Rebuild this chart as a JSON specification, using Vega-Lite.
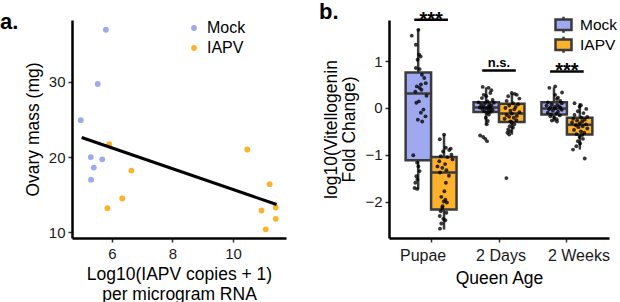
{
  "$schema": "https://vega.github.io/schema/vega-lite/v6.json",
  "background": "white",
  "padding": {"left": 0, "top": 0, "right": 0, "bottom": 0},
  "spacing": 33,
  "config": {
    "font": "Liberation Sans",
    "view": {"stroke": null},
    "axis": {
      "grid": false,
      "domainColor": "black",
      "domainWidth": 2.5,
      "tickColor": "#333333",
      "tickSize": 4,
      "tickWidth": 1.5,
      "labelFont": "Liberation Sans",
      "labelFontSize": 15,
      "labelColor": "#1a1a1a",
      "titleFont": "Liberation Sans",
      "titleFontSize": 17.5,
      "titleFontWeight": "normal",
      "titleColor": "black"
    },
    "legend": {
      "labelFont": "Liberation Sans",
      "labelFontSize": 16,
      "labelColor": "black",
      "padding": 0
    },
    "title": {"font": "Liberation Sans", "fontSize": 22, "fontWeight": "bold", "anchor": "start", "frame": "group", "color": "black"}
  },
  "datasets": {
    "scatter": [
      {"g": "Mock", "x": 4.97, "y": 24.9},
      {"g": "Mock", "x": 5.8, "y": 36.9},
      {"g": "Mock", "x": 5.53, "y": 29.7},
      {"g": "Mock", "x": 5.3, "y": 20.0},
      {"g": "Mock", "x": 5.4, "y": 18.6},
      {"g": "Mock", "x": 5.31, "y": 17.0},
      {"g": "Mock", "x": 5.68, "y": 19.7},
      {"g": "IAPV", "x": 5.91, "y": 21.7},
      {"g": "IAPV", "x": 5.85, "y": 13.2},
      {"g": "IAPV", "x": 6.34, "y": 14.5},
      {"g": "IAPV", "x": 6.64, "y": 18.2},
      {"g": "IAPV", "x": 10.47, "y": 21.0},
      {"g": "IAPV", "x": 11.21, "y": 16.4},
      {"g": "IAPV", "x": 10.94, "y": 12.9},
      {"g": "IAPV", "x": 11.41, "y": 13.3},
      {"g": "IAPV", "x": 11.41, "y": 11.8},
      {"g": "IAPV", "x": 11.08, "y": 10.4}
    ],
    "fit": [
      {"x": 5.0, "y": 22.6},
      {"x": 11.44, "y": 13.7}
    ],
    "box": [
      {"a": "Pupae", "g": "Mock", "lo": -1.74, "q1": -1.12, "med": 0.31, "q3": 0.76, "hi": 1.69},
      {"a": "Pupae", "g": "IAPV", "lo": -2.6, "q1": -2.17, "med": -1.38, "q3": -1.05, "hi": -0.57},
      {"a": "2 Days", "g": "Mock", "lo": -0.36, "q1": -0.085, "med": 0.01, "q3": 0.12, "hi": 0.44},
      {"a": "2 Days", "g": "IAPV", "lo": -0.57, "q1": -0.3, "med": -0.12, "q3": 0.09, "hi": 0.31},
      {"a": "2 Weeks", "g": "Mock", "lo": -0.29, "q1": -0.14, "med": -0.01, "q3": 0.12, "hi": 0.44},
      {"a": "2 Weeks", "g": "IAPV", "lo": -0.89, "q1": -0.57, "med": -0.36, "q3": -0.21, "hi": 0.1}
    ],
    "sig": [
      {"a": "Pupae", "label": "***", "y": 1.887},
      {"a": "2 Days", "label": "n.s.", "y": 0.8},
      {"a": "2 Weeks", "label": "***", "y": 0.78}
    ],
    "pts": [
      {"a": "Pupae", "g": "Mock", "v": 1.67, "j": 0.0},
      {"a": "Pupae", "g": "Mock", "v": 1.545, "j": -0.26},
      {"a": "Pupae", "g": "Mock", "v": 1.35, "j": -0.1},
      {"a": "Pupae", "g": "Mock", "v": 1.14, "j": 0.03},
      {"a": "Pupae", "g": "Mock", "v": 1.1, "j": 0.09},
      {"a": "Pupae", "g": "Mock", "v": 1.03, "j": -0.03},
      {"a": "Pupae", "g": "Mock", "v": 0.855, "j": -0.1},
      {"a": "Pupae", "g": "Mock", "v": 0.83, "j": 0.05},
      {"a": "Pupae", "g": "Mock", "v": 0.71, "j": 0.14},
      {"a": "Pupae", "g": "Mock", "v": 0.64, "j": 0.23},
      {"a": "Pupae", "g": "Mock", "v": 0.53, "j": 0.29},
      {"a": "Pupae", "g": "Mock", "v": 0.5, "j": 0.1},
      {"a": "Pupae", "g": "Mock", "v": 0.46, "j": -0.06},
      {"a": "Pupae", "g": "Mock", "v": 0.43, "j": 0.05},
      {"a": "Pupae", "g": "Mock", "v": 0.39, "j": 0.12},
      {"a": "Pupae", "g": "Mock", "v": 0.35, "j": -0.12},
      {"a": "Pupae", "g": "Mock", "v": 0.26, "j": 0.32},
      {"a": "Pupae", "g": "Mock", "v": 0.14, "j": 0.02},
      {"a": "Pupae", "g": "Mock", "v": 0.11, "j": -0.08},
      {"a": "Pupae", "g": "Mock", "v": -0.035, "j": 0.2},
      {"a": "Pupae", "g": "Mock", "v": -0.1, "j": 0.1},
      {"a": "Pupae", "g": "Mock", "v": -0.18, "j": 0.28},
      {"a": "Pupae", "g": "Mock", "v": -0.25, "j": -0.02},
      {"a": "Pupae", "g": "Mock", "v": -0.29, "j": 0.15},
      {"a": "Pupae", "g": "Mock", "v": -1.01, "j": -0.2},
      {"a": "Pupae", "g": "Mock", "v": -1.17, "j": -0.05},
      {"a": "Pupae", "g": "Mock", "v": -1.25, "j": 0.0},
      {"a": "Pupae", "g": "Mock", "v": -1.35, "j": 0.05},
      {"a": "Pupae", "g": "Mock", "v": -1.46, "j": -0.08},
      {"a": "Pupae", "g": "Mock", "v": -1.53, "j": -0.04},
      {"a": "Pupae", "g": "Mock", "v": -1.6, "j": -0.12},
      {"a": "Pupae", "g": "Mock", "v": -1.71, "j": -0.15},
      {"a": "Pupae", "g": "Mock", "v": -1.73, "j": -0.05},
      {"a": "Pupae", "g": "IAPV", "v": -0.57, "j": 0.01},
      {"a": "Pupae", "g": "IAPV", "v": -0.67, "j": -0.16},
      {"a": "Pupae", "g": "IAPV", "v": -0.85, "j": 0.08},
      {"a": "Pupae", "g": "IAPV", "v": -0.87, "j": 0.27},
      {"a": "Pupae", "g": "IAPV", "v": -0.9, "j": 0.21},
      {"a": "Pupae", "g": "IAPV", "v": -0.93, "j": -0.03},
      {"a": "Pupae", "g": "IAPV", "v": -1.0, "j": 0.3},
      {"a": "Pupae", "g": "IAPV", "v": -1.03, "j": -0.12},
      {"a": "Pupae", "g": "IAPV", "v": -1.05, "j": 0.14},
      {"a": "Pupae", "g": "IAPV", "v": -1.1, "j": 0.34},
      {"a": "Pupae", "g": "IAPV", "v": -1.14, "j": -0.18},
      {"a": "Pupae", "g": "IAPV", "v": -1.2, "j": 0.05},
      {"a": "Pupae", "g": "IAPV", "v": -1.25, "j": -0.25},
      {"a": "Pupae", "g": "IAPV", "v": -1.28, "j": -0.06},
      {"a": "Pupae", "g": "IAPV", "v": -1.33, "j": 0.1},
      {"a": "Pupae", "g": "IAPV", "v": -1.38, "j": -0.15},
      {"a": "Pupae", "g": "IAPV", "v": -1.45, "j": 0.2},
      {"a": "Pupae", "g": "IAPV", "v": -1.6, "j": 0.08},
      {"a": "Pupae", "g": "IAPV", "v": -1.78, "j": 0.02},
      {"a": "Pupae", "g": "IAPV", "v": -1.9, "j": -0.1},
      {"a": "Pupae", "g": "IAPV", "v": -1.96, "j": 0.06},
      {"a": "Pupae", "g": "IAPV", "v": -2.0, "j": 0.0},
      {"a": "Pupae", "g": "IAPV", "v": -2.02, "j": 0.12},
      {"a": "Pupae", "g": "IAPV", "v": -2.1, "j": -0.05},
      {"a": "Pupae", "g": "IAPV", "v": -2.14, "j": -0.06},
      {"a": "Pupae", "g": "IAPV", "v": -2.21, "j": -0.12},
      {"a": "Pupae", "g": "IAPV", "v": -2.24, "j": 0.1},
      {"a": "Pupae", "g": "IAPV", "v": -2.31, "j": -0.16},
      {"a": "Pupae", "g": "IAPV", "v": -2.37, "j": -0.02},
      {"a": "Pupae", "g": "IAPV", "v": -2.4, "j": 0.06},
      {"a": "Pupae", "g": "IAPV", "v": -2.47, "j": -0.1},
      {"a": "Pupae", "g": "IAPV", "v": -2.58, "j": -0.15},
      {"a": "2 Days", "g": "Mock", "v": 0.45, "j": -0.14},
      {"a": "2 Days", "g": "Mock", "v": 0.43, "j": 0.09},
      {"a": "2 Days", "g": "Mock", "v": 0.38, "j": 0.2},
      {"a": "2 Days", "g": "Mock", "v": 0.32, "j": 0.16},
      {"a": "2 Days", "g": "Mock", "v": 0.28, "j": -0.1},
      {"a": "2 Days", "g": "Mock", "v": 0.25, "j": 0.0},
      {"a": "2 Days", "g": "Mock", "v": 0.21, "j": -0.17},
      {"a": "2 Days", "g": "Mock", "v": 0.17, "j": 0.25},
      {"a": "2 Days", "g": "Mock", "v": 0.14, "j": 0.05},
      {"a": "2 Days", "g": "Mock", "v": 0.12, "j": -0.3},
      {"a": "2 Days", "g": "Mock", "v": 0.11, "j": 0.3},
      {"a": "2 Days", "g": "Mock", "v": 0.1, "j": -0.05},
      {"a": "2 Days", "g": "Mock", "v": 0.08, "j": 0.12},
      {"a": "2 Days", "g": "Mock", "v": 0.07, "j": -0.2},
      {"a": "2 Days", "g": "Mock", "v": 0.05, "j": 0.2},
      {"a": "2 Days", "g": "Mock", "v": 0.03, "j": -0.1},
      {"a": "2 Days", "g": "Mock", "v": 0.02, "j": 0.08},
      {"a": "2 Days", "g": "Mock", "v": 0.01, "j": -0.25},
      {"a": "2 Days", "g": "Mock", "v": 0.0, "j": 0.15},
      {"a": "2 Days", "g": "Mock", "v": -0.01, "j": 0.0},
      {"a": "2 Days", "g": "Mock", "v": -0.02, "j": -0.15},
      {"a": "2 Days", "g": "Mock", "v": -0.04, "j": 0.25},
      {"a": "2 Days", "g": "Mock", "v": -0.05, "j": 0.1},
      {"a": "2 Days", "g": "Mock", "v": -0.07, "j": -0.08},
      {"a": "2 Days", "g": "Mock", "v": -0.08, "j": 0.18},
      {"a": "2 Days", "g": "Mock", "v": -0.1, "j": 0.05},
      {"a": "2 Days", "g": "Mock", "v": -0.14, "j": 0.1},
      {"a": "2 Days", "g": "Mock", "v": -0.21, "j": -0.02},
      {"a": "2 Days", "g": "Mock", "v": -0.28, "j": 0.06},
      {"a": "2 Days", "g": "Mock", "v": -0.35, "j": 0.02},
      {"a": "2 Days", "g": "Mock", "v": -0.59, "j": -0.24},
      {"a": "2 Days", "g": "Mock", "v": -0.62, "j": -0.12},
      {"a": "2 Days", "g": "Mock", "v": -0.66, "j": -0.04},
      {"a": "2 Days", "g": "Mock", "v": -0.71, "j": 0.03},
      {"a": "2 Days", "g": "IAPV", "v": 0.32, "j": 0.0},
      {"a": "2 Days", "g": "IAPV", "v": 0.3, "j": 0.12},
      {"a": "2 Days", "g": "IAPV", "v": 0.28, "j": 0.2},
      {"a": "2 Days", "g": "IAPV", "v": 0.25, "j": -0.14},
      {"a": "2 Days", "g": "IAPV", "v": 0.2, "j": 0.3},
      {"a": "2 Days", "g": "IAPV", "v": 0.15, "j": -0.2},
      {"a": "2 Days", "g": "IAPV", "v": 0.1, "j": 0.05},
      {"a": "2 Days", "g": "IAPV", "v": 0.08, "j": 0.25},
      {"a": "2 Days", "g": "IAPV", "v": 0.05, "j": -0.1},
      {"a": "2 Days", "g": "IAPV", "v": 0.02, "j": 0.15},
      {"a": "2 Days", "g": "IAPV", "v": 0.0, "j": -0.25},
      {"a": "2 Days", "g": "IAPV", "v": -0.03, "j": 0.1},
      {"a": "2 Days", "g": "IAPV", "v": -0.06, "j": -0.05},
      {"a": "2 Days", "g": "IAPV", "v": -0.09, "j": 0.3},
      {"a": "2 Days", "g": "IAPV", "v": -0.12, "j": 0.0},
      {"a": "2 Days", "g": "IAPV", "v": -0.15, "j": -0.2},
      {"a": "2 Days", "g": "IAPV", "v": -0.17, "j": 0.2},
      {"a": "2 Days", "g": "IAPV", "v": -0.19, "j": -0.1},
      {"a": "2 Days", "g": "IAPV", "v": -0.21, "j": 0.08},
      {"a": "2 Days", "g": "IAPV", "v": -0.23, "j": -0.28},
      {"a": "2 Days", "g": "IAPV", "v": -0.26, "j": 0.18},
      {"a": "2 Days", "g": "IAPV", "v": -0.29, "j": -0.05},
      {"a": "2 Days", "g": "IAPV", "v": -0.31, "j": 0.0},
      {"a": "2 Days", "g": "IAPV", "v": -0.35, "j": 0.1},
      {"a": "2 Days", "g": "IAPV", "v": -0.39, "j": -0.08},
      {"a": "2 Days", "g": "IAPV", "v": -0.42, "j": 0.05},
      {"a": "2 Days", "g": "IAPV", "v": -0.46, "j": -0.14},
      {"a": "2 Days", "g": "IAPV", "v": -0.5, "j": -0.06},
      {"a": "2 Days", "g": "IAPV", "v": -0.53, "j": -0.17},
      {"a": "2 Days", "g": "IAPV", "v": -0.57, "j": -0.1},
      {"a": "2 Days", "g": "IAPV", "v": -1.5, "j": -0.21},
      {"a": "2 Weeks", "g": "Mock", "v": 0.46, "j": 0.04},
      {"a": "2 Weeks", "g": "Mock", "v": 0.43, "j": -0.19},
      {"a": "2 Weeks", "g": "Mock", "v": 0.33, "j": 0.31},
      {"a": "2 Weeks", "g": "Mock", "v": 0.28, "j": 0.04},
      {"a": "2 Weeks", "g": "Mock", "v": 0.22, "j": 0.15},
      {"a": "2 Weeks", "g": "Mock", "v": 0.19, "j": 0.11},
      {"a": "2 Weeks", "g": "Mock", "v": 0.15, "j": 0.24},
      {"a": "2 Weeks", "g": "Mock", "v": 0.12, "j": -0.25},
      {"a": "2 Weeks", "g": "Mock", "v": 0.1, "j": 0.3},
      {"a": "2 Weeks", "g": "Mock", "v": 0.08, "j": -0.1},
      {"a": "2 Weeks", "g": "Mock", "v": 0.06, "j": 0.12},
      {"a": "2 Weeks", "g": "Mock", "v": 0.05, "j": -0.3},
      {"a": "2 Weeks", "g": "Mock", "v": 0.03, "j": 0.2},
      {"a": "2 Weeks", "g": "Mock", "v": 0.02, "j": 0.0},
      {"a": "2 Weeks", "g": "Mock", "v": 0.01, "j": -0.15},
      {"a": "2 Weeks", "g": "Mock", "v": 0.0, "j": 0.25},
      {"a": "2 Weeks", "g": "Mock", "v": -0.01, "j": 0.05},
      {"a": "2 Weeks", "g": "Mock", "v": -0.03, "j": -0.2},
      {"a": "2 Weeks", "g": "Mock", "v": -0.04, "j": 0.3},
      {"a": "2 Weeks", "g": "Mock", "v": -0.06, "j": -0.05},
      {"a": "2 Weeks", "g": "Mock", "v": -0.08, "j": 0.15},
      {"a": "2 Weeks", "g": "Mock", "v": -0.1, "j": -0.25},
      {"a": "2 Weeks", "g": "Mock", "v": -0.12, "j": 0.08},
      {"a": "2 Weeks", "g": "Mock", "v": -0.14, "j": -0.12},
      {"a": "2 Weeks", "g": "Mock", "v": -0.16, "j": 0.22},
      {"a": "2 Weeks", "g": "Mock", "v": -0.18, "j": -0.15},
      {"a": "2 Weeks", "g": "Mock", "v": -0.21, "j": 0.0},
      {"a": "2 Weeks", "g": "Mock", "v": -0.24, "j": 0.1},
      {"a": "2 Weeks", "g": "Mock", "v": -0.27, "j": -0.09},
      {"a": "2 Weeks", "g": "Mock", "v": -0.29, "j": 0.11},
      {"a": "2 Weeks", "g": "IAPV", "v": 0.1, "j": -0.2},
      {"a": "2 Weeks", "g": "IAPV", "v": 0.06, "j": 0.05},
      {"a": "2 Weeks", "g": "IAPV", "v": 0.03, "j": 0.0},
      {"a": "2 Weeks", "g": "IAPV", "v": -0.02, "j": 0.26},
      {"a": "2 Weeks", "g": "IAPV", "v": -0.07, "j": -0.07},
      {"a": "2 Weeks", "g": "IAPV", "v": -0.11, "j": 0.15},
      {"a": "2 Weeks", "g": "IAPV", "v": -0.15, "j": -0.2},
      {"a": "2 Weeks", "g": "IAPV", "v": -0.19, "j": 0.3},
      {"a": "2 Weeks", "g": "IAPV", "v": -0.21, "j": 0.07},
      {"a": "2 Weeks", "g": "IAPV", "v": -0.23, "j": -0.25},
      {"a": "2 Weeks", "g": "IAPV", "v": -0.25, "j": 0.2},
      {"a": "2 Weeks", "g": "IAPV", "v": -0.27, "j": -0.1},
      {"a": "2 Weeks", "g": "IAPV", "v": -0.29, "j": 0.1},
      {"a": "2 Weeks", "g": "IAPV", "v": -0.31, "j": -0.3},
      {"a": "2 Weeks", "g": "IAPV", "v": -0.33, "j": 0.0},
      {"a": "2 Weeks", "g": "IAPV", "v": -0.35, "j": 0.25},
      {"a": "2 Weeks", "g": "IAPV", "v": -0.37, "j": -0.15},
      {"a": "2 Weeks", "g": "IAPV", "v": -0.39, "j": 0.12},
      {"a": "2 Weeks", "g": "IAPV", "v": -0.41, "j": -0.05},
      {"a": "2 Weeks", "g": "IAPV", "v": -0.44, "j": 0.3},
      {"a": "2 Weeks", "g": "IAPV", "v": -0.47, "j": -0.22},
      {"a": "2 Weeks", "g": "IAPV", "v": -0.5, "j": 0.05},
      {"a": "2 Weeks", "g": "IAPV", "v": -0.53, "j": 0.18},
      {"a": "2 Weeks", "g": "IAPV", "v": -0.56, "j": -0.12},
      {"a": "2 Weeks", "g": "IAPV", "v": -0.58, "j": 0.1},
      {"a": "2 Weeks", "g": "IAPV", "v": -0.62, "j": 0.0},
      {"a": "2 Weeks", "g": "IAPV", "v": -0.66, "j": 0.13},
      {"a": "2 Weeks", "g": "IAPV", "v": -0.71, "j": -0.07},
      {"a": "2 Weeks", "g": "IAPV", "v": -0.76, "j": 0.02},
      {"a": "2 Weeks", "g": "IAPV", "v": -0.82, "j": -0.13},
      {"a": "2 Weeks", "g": "IAPV", "v": -0.89, "j": -0.26},
      {"a": "2 Weeks", "g": "IAPV", "v": -1.08, "j": 0.2}
    ]
  },
  "resolve": {"scale": {"color": "independent", "fill": "independent"}, "legend": {"color": "independent", "fill": "independent"}},
  "hconcat": [
    {
      "width": 214,
      "height": 218,
      "title": {"text": "a.", "dx": -72, "offset": -14},
      "layer": [
        {
          "data": {"name": "scatter"},
          "mark": {"type": "circle", "size": 34, "opacity": 1},
          "encoding": {
            "x": {
              "field": "x", "type": "quantitative",
              "scale": {"domain": [4.68, 11.75], "nice": false, "zero": false},
              "axis": {"values": [6, 8, 10], "labelPadding": 4, "titlePadding": 4, "titleLineHeight": 20,
                       "title": ["Log10(IAPV copies + 1)", "per microgram RNA"]}
            },
            "y": {
              "field": "y", "type": "quantitative",
              "scale": {"domain": [9.25, 38.2], "nice": false, "zero": false},
              "axis": {"values": [10, 20, 30], "labelPadding": 3, "titlePadding": 6, "title": "Ovary mass (mg)"}
            },
            "color": {
              "field": "g", "type": "nominal",
              "sort": ["Mock", "IAPV"],
              "scale": {"domain": ["Mock", "IAPV"], "range": ["#9ea9ef", "#fdb22c"]},
              "legend": {"title": null, "orient": "none", "legendX": 114, "legendY": 0,
                         "symbolType": "circle", "symbolSize": 34, "symbolStrokeWidth": 0, "symbolOpacity": 1,
                         "labelOffset": 5, "rowPadding": 4}
            }
          }
        },
        {
          "data": {"name": "fit"},
          "mark": {"type": "line", "color": "black", "strokeWidth": 3},
          "encoding": {
            "x": {"field": "x", "type": "quantitative"},
            "y": {"field": "y", "type": "quantitative"}
          }
        }
      ]
    },
    {
      "width": 220,
      "height": 218,
      "title": {"text": "b.", "dx": -70, "offset": -14},
      "resolve": {"scale": {"xOffset": "independent"}},
      "layer": [
        {
          "data": {"name": "box"},
          "mark": {"type": "rule", "color": "#3a3a3a", "strokeWidth": 2.5},
          "encoding": {
            "x": {
              "field": "a", "type": "nominal", "sort": ["Pupae", "2 Days", "2 Weeks"],
              "scale": {"domain": ["Pupae", "2 Days", "2 Weeks"], "paddingInner": 0.25, "paddingOuter": 0.245},
              "axis": {"labelAngle": 0, "labelFontSize": 16, "labelPadding": 5, "titlePadding": 6, "title": "Queen Age",
                       "labelOffset": {"expr": "datum.value === 'Pupae' ? -8 : (datum.value === '2 Weeks' ? 12 : 2)"}}
            },
            "xOffset": {"field": "g", "type": "nominal", "sort": ["Mock", "IAPV"], "scale": {"domain": ["Mock", "IAPV"], "paddingInner": 0.03}},
            "y": {
              "field": "lo", "type": "quantitative",
              "scale": {"domain": [-2.78, 1.88], "nice": false, "zero": false},
              "axis": {"values": [-2, -1, 0, 1], "labelPadding": 3, "titlePadding": 6, "titleLineHeight": 18,
                       "title": ["log10(Vitellogenin", "Fold Change)"]}
            },
            "y2": {"field": "hi"}
          }
        },
        {
          "data": {"name": "box"},
          "mark": {"type": "bar", "stroke": "#3a3a3a", "strokeWidth": 2.5},
          "encoding": {
            "x": {"field": "a", "type": "nominal", "sort": ["Pupae", "2 Days", "2 Weeks"]},
            "xOffset": {"field": "g", "type": "nominal", "sort": ["Mock", "IAPV"]},
            "y": {"field": "q1", "type": "quantitative"},
            "y2": {"field": "q3"},
            "fill": {
              "field": "g", "type": "nominal",
              "sort": ["Mock", "IAPV"],
              "scale": {"domain": ["Mock", "IAPV"], "range": ["#9ea9ef", "#fdb22c"]},
              "legend": {"title": null, "orient": "none", "legendX": 165, "legendY": -5,
                         "symbolType": "M-1,-0.65H1V0.65H-1Z M0,-0.65V-1 M0,0.65V1",
                         "symbolSize": 256, "symbolStrokeColor": "#3a3a3a", "symbolStrokeWidth": 2.5,
                         "symbolOpacity": 1, "labelOffset": 7, "labelFontSize": 15.5, "rowPadding": 0, "clipHeight": 19.4}
            }
          }
        },
        {
          "data": {"name": "box"},
          "mark": {"type": "bar", "fill": null, "stroke": "#3a3a3a", "strokeWidth": 2.5},
          "encoding": {
            "x": {"field": "a", "type": "nominal", "sort": ["Pupae", "2 Days", "2 Weeks"]},
            "xOffset": {"field": "g", "type": "nominal", "sort": ["Mock", "IAPV"]},
            "y": {"field": "med", "type": "quantitative"},
            "y2": {"field": "med"}
          }
        },
        {
          "data": {"name": "pts"},
          "transform": [{"calculate": "(datum.g === 'Mock' ? -0.25 : 0.25) + datum.j * 0.5", "as": "off"}],
          "mark": {"type": "circle", "size": 15, "color": "black", "opacity": 0.78},
          "encoding": {
            "x": {"field": "a", "type": "nominal", "sort": ["Pupae", "2 Days", "2 Weeks"]},
            "xOffset": {"field": "off", "type": "quantitative", "scale": {"domain": [-0.5, 0.5]}},
            "y": {"field": "v", "type": "quantitative"}
          }
        },
        {
          "data": {"name": "sig"},
          "mark": {"type": "rule", "color": "black", "strokeWidth": 2.5},
          "encoding": {
            "x": {"field": "a", "type": "nominal", "sort": ["Pupae", "2 Days", "2 Weeks"], "bandPosition": 0.17},
            "x2": {"field": "a", "bandPosition": 0.83},
            "y": {"field": "y", "type": "quantitative"}
          }
        },
        {
          "data": {"name": "sig"},
          "transform": [{"filter": "datum.label === '***'"}],
          "mark": {"type": "text", "fontSize": 20, "fontWeight": "bold", "baseline": "alphabetic", "dy": 6, "color": "black"},
          "encoding": {
            "x": {"field": "a", "type": "nominal", "sort": ["Pupae", "2 Days", "2 Weeks"]},
            "y": {"field": "y", "type": "quantitative"},
            "text": {"field": "label"}
          }
        },
        {
          "data": {"name": "sig"},
          "transform": [{"filter": "datum.label !== '***'"}],
          "mark": {"type": "text", "fontSize": 13, "fontWeight": "bold", "baseline": "alphabetic", "dy": -4, "color": "black"},
          "encoding": {
            "x": {"field": "a", "type": "nominal", "sort": ["Pupae", "2 Days", "2 Weeks"]},
            "y": {"field": "y", "type": "quantitative"},
            "text": {"field": "label"}
          }
        }
      ]
    }
  ]
}
